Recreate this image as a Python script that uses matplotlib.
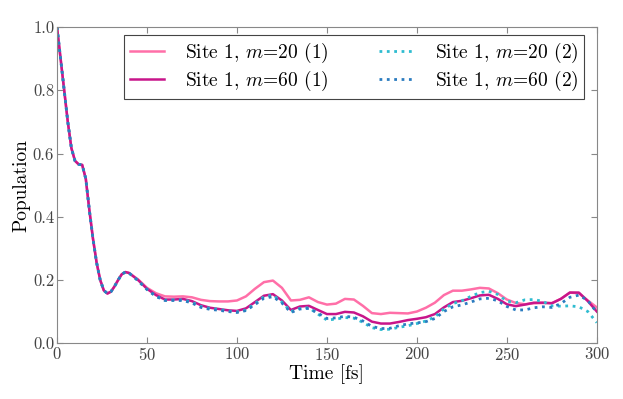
import numpy as np
import matplotlib
matplotlib.use("Agg")
import matplotlib.pyplot as plt

plt.rcParams['font.family'] = 'serif'
plt.rcParams['font.serif'] = ['cmr10']
plt.rcParams['mathtext.fontset'] = 'cm'
plt.rcParams['axes.formatter.use_mathtext'] = True

# time grid [fs]
t_early = [0, 2, 4, 6, 8, 10, 12, 14, 16, 18, 20, 22, 24, 26, 28, 30, 32, 34, 36, 38, 40]
t_late = list(range(45, 301, 5))

# early part is shared by all four runs
p_early = [1.0, 0.90, 0.80, 0.70, 0.617, 0.577, 0.566, 0.564, 0.52, 0.42, 0.33, 0.255,
           0.20, 0.167, 0.157, 0.163, 0.18, 0.20, 0.218, 0.225, 0.222]

m20_1 = [0.202, 0.175, 0.158, 0.148, 0.147, 0.148, 0.145, 0.137, 0.133, 0.132, 0.132,
         0.135, 0.148, 0.172, 0.193, 0.198, 0.175, 0.135, 0.137, 0.145, 0.130, 0.122,
         0.125, 0.140, 0.138, 0.118, 0.095, 0.092, 0.096, 0.095, 0.094, 0.100, 0.112,
         0.128, 0.152, 0.166, 0.166, 0.170, 0.175, 0.173, 0.158, 0.138, 0.127, 0.123,
         0.126, 0.127, 0.127, 0.140, 0.160, 0.158, 0.135, 0.113]
m60_1 = [0.200, 0.172, 0.152, 0.138, 0.138, 0.140, 0.133, 0.120, 0.112, 0.108, 0.104,
         0.102, 0.110, 0.130, 0.150, 0.155, 0.135, 0.105, 0.116, 0.118, 0.105, 0.092,
         0.092, 0.099, 0.097, 0.085, 0.068, 0.062, 0.062, 0.067, 0.073, 0.077, 0.082,
         0.092, 0.113, 0.130, 0.134, 0.142, 0.151, 0.153, 0.140, 0.123, 0.117, 0.122,
         0.128, 0.128, 0.126, 0.140, 0.160, 0.160, 0.133, 0.100]
m20_2 = [0.198, 0.170, 0.148, 0.136, 0.137, 0.137, 0.130, 0.116, 0.110, 0.107, 0.102,
         0.099, 0.105, 0.125, 0.147, 0.152, 0.130, 0.100, 0.110, 0.112, 0.092, 0.073,
         0.076, 0.081, 0.079, 0.066, 0.049, 0.043, 0.044, 0.050, 0.055, 0.062, 0.070,
         0.083, 0.108, 0.125, 0.134, 0.148, 0.160, 0.164, 0.154, 0.133, 0.128, 0.137,
         0.138, 0.132, 0.118, 0.117, 0.118, 0.115, 0.100, 0.065]
m60_2 = [0.198, 0.170, 0.148, 0.135, 0.135, 0.135, 0.127, 0.113, 0.107, 0.104, 0.100,
         0.097, 0.103, 0.122, 0.142, 0.147, 0.127, 0.097, 0.108, 0.110, 0.095, 0.078,
         0.080, 0.085, 0.082, 0.070, 0.053, 0.046, 0.047, 0.055, 0.061, 0.064, 0.068,
         0.078, 0.100, 0.115, 0.121, 0.130, 0.140, 0.142, 0.134, 0.116, 0.105, 0.105,
         0.112, 0.115, 0.113, 0.125, 0.145, 0.152, 0.135, 0.097]

t = t_early + t_late
fig = plt.figure(figsize=(6.23, 3.99), dpi=100)
ax = fig.add_axes([0.0915, 0.14, 0.8665, 0.792])

ax.plot(t, p_early + m20_1, color='#ff6fa8', lw=1.8, label='Site 1, $m$=20 (1)')
ax.plot(t, p_early + m60_1, color='#c8158a', lw=1.8, label='Site 1, $m$=60 (1)')
ax.plot(t, p_early + m20_2, color='#2fbcd0', lw=2.0, ls=':', label='Site 1, $m$=20 (2)')
ax.plot(t, p_early + m60_2, color='#2b7cc0', lw=2.0, ls=':', label='Site 1, $m$=60 (2)')

ax.set_xlim(0, 300)
ax.set_ylim(0, 1.0)
ax.set_xticks(np.arange(0, 301, 50))
ax.set_yticks(np.arange(0, 1.01, 0.2))
ax.set_yticklabels(['0.0', '0.2', '0.4', '0.6', '0.8', '1.0'])
ax.tick_params(direction='in', top=True, right=True, labelsize=12, color='#888888',
               labelcolor='#444444', length=4, pad=2)
for s in ax.spines.values():
    s.set_color('#888888')
ax.set_xlabel('Time [fs]', fontsize=14, labelpad=1)
ax.set_ylabel('Population', fontsize=14, labelpad=2)

leg = ax.legend(loc='upper right', bbox_to_anchor=(0.976, 0.975), borderaxespad=0,
                ncol=2, fontsize=14, fancybox=False, edgecolor='#444444',
                framealpha=1, handlelength=1.75, handletextpad=1.1,
                columnspacing=2.6, labelspacing=0.2, borderpad=0.3)
leg.get_frame().set_linewidth(0.8)

fig.savefig('out.png', dpi=100)
